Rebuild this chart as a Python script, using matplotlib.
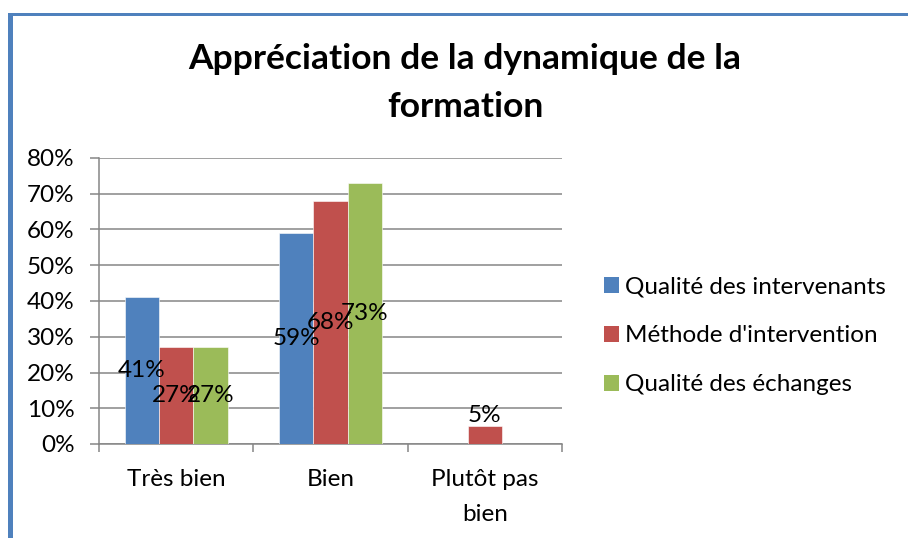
import matplotlib
matplotlib.use('Agg')
import matplotlib.pyplot as plt
import numpy as np
from matplotlib.patches import Patch, Rectangle

# Données
categories = ['Très bien', 'Bien', 'Plutôt pas\nbien']
series_names = ['Qualité des intervenants', "Méthode d'intervention", 'Qualité des échanges']
intervenants = [41, 59, 0]
methode = [27, 68, 5]
echanges = [27, 73, 0]
colors = ['#4F81BD', '#C0504D', '#9BBB59']

plt.rcParams['font.family'] = ['Lato', 'DejaVu Sans']

W, H = 908, 538
fig = plt.figure(figsize=(W / 100, H / 100), dpi=100)
ax = fig.add_axes([99 / W, 94 / H, 463 / W, 286 / H])

# Cadre bleu (gauche + haut)
fig.patches.append(Rectangle((8 / W, 0), 5 / W, (H - 13) / H, transform=fig.transFigure,
                             facecolor='#4F81BD', edgecolor='none'))
fig.patches.append(Rectangle((8 / W, (H - 16) / H), (W - 8) / W, 3 / H, transform=fig.transFigure,
                             facecolor='#4F81BD', edgecolor='none'))

fs = 17.5
x = np.arange(len(categories))
width = 1 / 4.5
all_series = [intervenants, methode, echanges]
for i, (vals, name, col) in enumerate(zip(all_series, series_names, colors)):
    pos = x + (i - 1) * width
    bars = ax.bar(pos, vals, width, color=col, edgecolor='white', linewidth=0.4, zorder=3)
    for p, v in zip(pos, vals):
        if v == 0:
            continue
        if v < 10:
            ax.text(p, v, f'{v}%', ha='center', va='bottom', fontsize=fs, zorder=4)
        else:
            ax.text(p, v / 2, f'{v}%', ha='center', va='center', fontsize=fs, zorder=4)

ax.set_xlim(-0.5, 2.5)
ax.set_ylim(0, 80)
ax.set_yticks(np.arange(0, 81, 10))
ax.set_yticklabels([f'{t}%' for t in range(0, 81, 10)], fontsize=fs)
ax.grid(axis='y', color='#868686', linewidth=1.1, zorder=0)
ax.set_xticks(x)
ax.set_xticklabels(categories, fontsize=fs, linespacing=1.8)
ax.set_xticks([-0.5, 0.5, 1.5, 2.5], minor=True)
ax.tick_params(axis='x', which='major', length=0, pad=18)
ax.tick_params(axis='x', which='minor', length=6, width=1.1, color='#868686')
ax.tick_params(axis='y', length=6.5, width=1.1, color='#868686', pad=11)
for s in ['top', 'right']:
    ax.spines[s].set_visible(False)
for s in ['left', 'bottom']:
    ax.spines[s].set_color('#868686')
    ax.spines[s].set_linewidth(1.1)

fig.text(465 / W, (H - 83) / H, 'Appréciation de la dynamique de la\nformation',
         ha='center', va='center', fontsize=25.5, fontweight='bold', linespacing=1.62)

handles = [Patch(facecolor=c, edgecolor='none') for c in colors]
fig.legend(handles, series_names, loc='center left', bbox_to_anchor=(604 / W, (H - 336) / H),
           frameon=False, fontsize=fs, handlelength=0.62, handleheight=0.62,
           handletextpad=0.25, labelspacing=1.15, borderaxespad=0, borderpad=0)

fig.savefig('out.png', dpi=100)
